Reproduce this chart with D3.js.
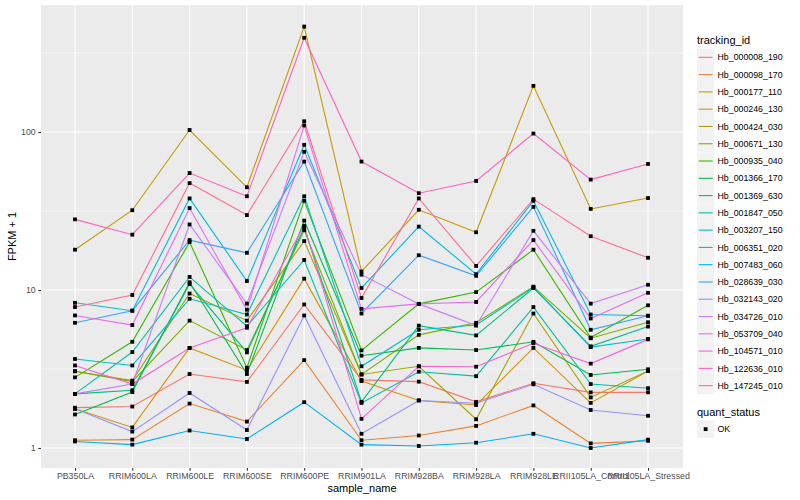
<!DOCTYPE html>
<html>
<head>
<meta charset="utf-8">
<script src="https://cdn.jsdelivr.net/npm/d3@7"></script>
<style>
  body { margin: 0; background: #fff; }
  text { font-family: "Liberation Sans", Arial, sans-serif; }
</style>
</head>
<body>
<script>

// sample names along the x axis
var samples = ["PB350LA","RRIM600LA","RRIM600LE","RRIM600SE","RRIM600PE","RRIM901LA",
               "RRIM928BA","RRIM928LA","RRIM928LE","RRII105LA_Control","RRII105LA_Stressed"];

var trackingIds = ["Hb_000008_190","Hb_000098_170","Hb_000177_110","Hb_000246_130","Hb_000424_030",
                   "Hb_000671_130","Hb_000935_040","Hb_001366_170","Hb_001369_630","Hb_001847_050",
                   "Hb_003207_150","Hb_006351_020","Hb_007483_060","Hb_028639_030","Hb_032143_020",
                   "Hb_034726_010","Hb_053709_040","Hb_104571_010","Hb_122636_010","Hb_147245_010"];

// FPKM + 1, one value per sample
var hb_000008_190 = [1.80, 1.83, 2.94, 2.62, 8.1, 2.70, 2.63, 1.96, 2.57, 2.25, 2.25];
var hb_000098_170 = [1.12, 1.13, 1.91, 1.47, 3.6, 1.12, 1.20, 1.38, 1.86, 1.07, 1.11];
var hb_000177_110 = [1.77, 1.35, 4.3, 3.11, 11.8, 2.65, 2.00, 1.87, 4.3, 1.93, 3.07];
var hb_000246_130 = [18, 32, 103, 44.7, 465, 13.1, 32.2, 23.2, 196, 32.6, 38.2];
var hb_000424_030 = [3.06, 2.67, 9.5, 6.4, 20.4, 2.92, 3.29, 1.52, 7.1, 2.09, 3.07];
var hb_000671_130 = [3.06, 2.63, 6.4, 4.17, 23.9, 2.92, 5.2, 6.2, 10.5, 4.95, 6.25];
var hb_000935_040 = [2.80, 4.7, 20.1, 3.22, 36.7, 4.15, 8.17, 9.7, 18.0, 5.0, 8.0];
var hb_001366_170 = [1.63, 2.26, 11.2, 2.94, 27.5, 3.84, 4.3, 4.17, 4.7, 2.9, 3.15];
var hb_001369_630 = [2.2, 2.32, 10.9, 4.03, 24.8, 1.96, 5.95, 5.16, 10.3, 4.4, 5.87];
var hb_001847_050 = [2.2, 4.05, 12.1, 5.9, 15.5, 1.93, 3.04, 2.85, 7.8, 2.54, 2.39];
var hb_003207_150 = [3.66, 3.33, 8.8, 7.0, 39.2, 3.29, 5.6, 6.0, 10.4, 4.35, 4.9];
var hb_006351_020 = [8.3, 7.4, 38, 11.4, 83, 10.3, 25.2, 12.6, 36.7, 7.0, 6.87];
var hb_007483_060 = [1.10, 1.05, 1.29, 1.14, 1.95, 1.05, 1.03, 1.08, 1.23, 1.0, 1.13];
var hb_028639_030 = [6.2, 7.4, 20.7, 17.2, 65, 7.1, 16.6, 12.3, 33.6, 5.6, 6.87];
var hb_032143_020 = [1.77, 1.27, 2.23, 1.30, 6.9, 1.23, 2.0, 1.92, 2.53, 1.74, 1.6];
var hb_034726_010 = [2.2, 2.54, 26, 8.2, 75, 12.5, 8.17, 5.95, 23.7, 8.2, 10.8];
var hb_053709_040 = [6.9, 6.0, 33, 7.5, 110, 7.6, 8.17, 8.4, 20.7, 6.6, 9.6];
var hb_104571_010 = [3.33, 2.54, 4.3, 5.77, 25.5, 1.53, 3.29, 3.27, 4.6, 3.42, 4.87];
var hb_122636_010 = [28, 22.4, 55, 39.2, 395, 65, 41, 49, 97.8, 50, 62.8];
var hb_147245_010 = [7.8, 9.3, 47.5, 29.8, 117, 8.9, 38, 14.2, 37.6, 21.9, 16.0];

var yTicks = [1, 10, 100];
var yMinor = [Math.sqrt(10), Math.sqrt(1000), Math.sqrt(100000)];

var allValues = [hb_000008_190, hb_000098_170, hb_000177_110, hb_000246_130, hb_000424_030,
                 hb_000671_130, hb_000935_040, hb_001366_170, hb_001369_630, hb_001847_050,
                 hb_003207_150, hb_006351_020, hb_007483_060, hb_028639_030, hb_032143_020,
                 hb_034726_010, hb_053709_040, hb_104571_010, hb_122636_010, hb_147245_010];

// ggplot default hue palette for 20 levels
var palette = ["#F8766D","#EA8331","#D89000","#C09B00","#A3A500","#7CAE00","#39B600","#00BB4E",
               "#00BF7D","#00C1A3","#00BFC4","#00BAE0","#00B0F6","#35A2FF","#9590FF","#C77CFF",
               "#E76BF3","#FA62DB","#FF62BC","#FF6C91"];

var series = trackingIds.map(function(id, i){
  return {id: id, color: palette[i], values: allValues[i]};
});

var W = 800, H = 500;
var panel = {left: 41, right: 683, top: 5, bottom: 468};

var svg = d3.select("body").append("svg")
  .attr("width", W).attr("height", H);

var x = d3.scalePoint()
  .domain(samples)
  .range([40.6, 682.4])
  .padding(0.6);

var y = d3.scaleLog()
  .domain([Math.pow(10, -0.1266), Math.pow(10, 2.804)])
  .range([panel.bottom, panel.top]);

// panel background
svg.append("rect")
  .attr("x", panel.left).attr("y", panel.top)
  .attr("width", panel.right - panel.left)
  .attr("height", panel.bottom - panel.top)
  .attr("fill", "#EBEBEB");

var grid = svg.append("g");
grid.selectAll(".minor").data(yMinor).enter().append("line")
  .attr("x1", panel.left).attr("x2", panel.right)
  .attr("y1", function(d){ return y(d); }).attr("y2", function(d){ return y(d); })
  .attr("stroke", "#fff").attr("stroke-width", 0.55);
grid.selectAll(".major").data(yTicks).enter().append("line")
  .attr("x1", panel.left).attr("x2", panel.right)
  .attr("y1", function(d){ return y(d); }).attr("y2", function(d){ return y(d); })
  .attr("stroke", "#fff").attr("stroke-width", 1.1);
grid.selectAll(".vx").data(samples).enter().append("line")
  .attr("x1", function(d){ return x(d); }).attr("x2", function(d){ return x(d); })
  .attr("y1", panel.top).attr("y2", panel.bottom)
  .attr("stroke", "#fff").attr("stroke-width", 1.1);

// lines
var line = d3.line()
  .x(function(d, i){ return x(samples[i]); })
  .y(function(d){ return y(d); });

svg.append("g").selectAll("path").data(series).enter().append("path")
  .attr("d", function(s){ return line(s.values); })
  .attr("fill", "none")
  .attr("stroke", function(s){ return s.color; })
  .attr("stroke-width", 1.1);

// points (quant_status = OK)
var pts = [];
series.forEach(function(s){
  s.values.forEach(function(v, i){ pts.push({s: samples[i], v: v}); });
});
svg.append("g").selectAll("rect").data(pts).enter().append("rect")
  .attr("x", function(d){ return x(d.s) - 1.9; })
  .attr("y", function(d){ return y(d.v) - 1.9; })
  .attr("width", 3.8).attr("height", 3.8)
  .attr("fill", "#000");

// axes
var xAxis = d3.axisBottom(x).tickSize(2.75).tickPadding(2.5);
var gx = svg.append("g")
  .attr("transform", "translate(0," + panel.bottom + ")")
  .call(xAxis);
gx.select(".domain").remove();
gx.selectAll("line").attr("stroke", "#333").attr("stroke-width", 1.1);
gx.selectAll("text").attr("fill", "#4D4D4D").attr("font-size", "8.8px");

var yAxis = d3.axisLeft(y).tickValues(yTicks).tickFormat(d3.format("d"))
  .tickSize(2.75).tickPadding(2.5);
var gy = svg.append("g")
  .attr("transform", "translate(" + panel.left + ",0)")
  .call(yAxis);
gy.select(".domain").remove();
gy.selectAll("line").attr("stroke", "#333").attr("stroke-width", 1.1);
gy.selectAll("text").attr("fill", "#4D4D4D").attr("font-size", "8.8px");

svg.append("text")
  .attr("x", (panel.left + panel.right) / 2).attr("y", 492)
  .attr("text-anchor", "middle").attr("font-size", "11px").attr("fill", "#000")
  .text("sample_name");

svg.append("text")
  .attr("transform", "translate(16," + ((panel.top + panel.bottom) / 2) + ") rotate(-90)")
  .attr("text-anchor", "middle").attr("font-size", "11px").attr("fill", "#000")
  .text("FPKM + 1");

// legend: tracking_id
var lg = svg.append("g").attr("transform", "translate(697,0)");
lg.append("text").attr("x", 0).attr("y", 44)
  .attr("font-size", "11px").attr("fill", "#000").text("tracking_id");

var keys = lg.selectAll(".key").data(series).enter().append("g")
  .attr("transform", function(d, i){ return "translate(0," + (48.7 + i * 17.28) + ")"; });
keys.append("rect").attr("width", 17.28).attr("height", 17.28).attr("fill", "#F2F2F2");
keys.append("line")
  .attr("x1", 1.7).attr("x2", 15.6).attr("y1", 8.64).attr("y2", 8.64)
  .attr("stroke", function(d){ return d.color; }).attr("stroke-width", 1.1);
keys.append("text").attr("x", 20.5).attr("y", 11.8)
  .attr("font-size", "8.8px").attr("fill", "#000")
  .text(function(d){ return d.id; });

// legend: quant_status
lg.append("text").attr("x", 0).attr("y", 416)
  .attr("font-size", "11px").attr("fill", "#000").text("quant_status");
var ok = lg.append("g").attr("transform", "translate(0,420.5)");
ok.append("rect").attr("width", 17.28).attr("height", 17.28).attr("fill", "#F2F2F2");
ok.append("rect").attr("x", 6.74).attr("y", 6.74).attr("width", 3.8).attr("height", 3.8).attr("fill", "#000");
ok.append("text").attr("x", 20.5).attr("y", 11.8)
  .attr("font-size", "8.8px").attr("fill", "#000").text("OK");

</script>
</body>
</html>
